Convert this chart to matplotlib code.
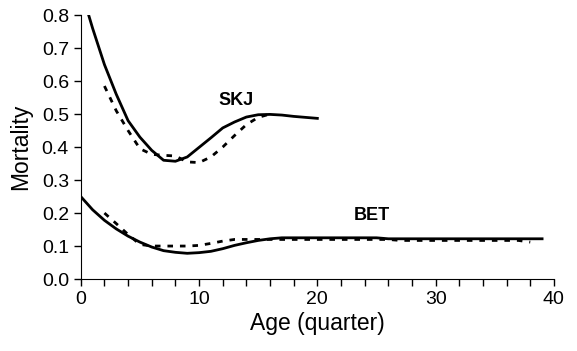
import matplotlib
matplotlib.use("Agg")
import matplotlib.pyplot as plt
from matplotlib.ticker import MultipleLocator, FormatStrFormatter

plt.rcParams['font.family'] = ['Liberation Sans', 'DejaVu Sans']

# skipjack (SKJ) mortality by age
skj_age = list(range(0, 21))
skj_solid = [0.88, 0.76, 0.65, 0.56, 0.48, 0.43, 0.39, 0.36, 0.357, 0.37,
             0.399, 0.428, 0.458, 0.476, 0.491, 0.498, 0.499, 0.497, 0.493,
             0.490, 0.487]
skj_dash_age = list(range(2, 17))
skj_dash = [0.585, 0.51, 0.45, 0.395, 0.378, 0.375, 0.373, 0.355, 0.353,
            0.37, 0.40, 0.435, 0.468, 0.49, 0.50]

# bigeye (BET) mortality by age
bet_age = list(range(0, 40))
bet_solid = [0.25, 0.21, 0.178, 0.152, 0.13, 0.112, 0.097, 0.086, 0.081,
             0.078, 0.08, 0.084, 0.092, 0.102, 0.11, 0.117, 0.122] + \
            [0.125] * 9 + [0.122] * 14
bet_dash_age = list(range(2, 39))
bet_dash = [0.20, 0.168, 0.135, 0.105, 0.1, 0.1, 0.1, 0.1, 0.102, 0.108,
            0.115, 0.12] + [0.12] * 13 + [0.117] * 11 + [0.112]

fig = plt.figure(figsize=(5.77, 3.51), dpi=100)
ax = fig.add_axes([0.14, 0.205, 0.82, 0.752])

ax.plot(skj_age, skj_solid, color='black', lw=2)
ax.plot(skj_dash_age, skj_dash, color='black', lw=2, ls=(0, (2, 2.5)))
ax.plot(bet_age, bet_solid, color='black', lw=2)
ax.plot(bet_dash_age, bet_dash, color='black', lw=2, ls=(0, (2, 2.5)))

ax.text(13.1, 0.541, 'SKJ', fontsize=13, fontweight='bold', ha='center', va='center')
ax.text(24.6, 0.194, 'BET', fontsize=13, fontweight='bold', ha='center', va='center')

ax.set_xlim(0, 40)
ax.set_ylim(0, 0.8)
ax.xaxis.set_major_locator(MultipleLocator(10))
ax.xaxis.set_minor_locator(MultipleLocator(2))
ax.yaxis.set_major_locator(MultipleLocator(0.1))
ax.yaxis.set_major_formatter(FormatStrFormatter('%.1f'))
ax.tick_params(which='major', direction='out', length=5, width=1, labelsize=14)
ax.tick_params(which='minor', direction='out', length=5, width=1)
for s in ['top', 'right']:
    ax.spines[s].set_visible(False)

ax.set_xlabel('Age (quarter)', fontsize=16.5, labelpad=3)
ax.set_ylabel('Mortality', fontsize=16.5, labelpad=7)

fig.savefig('out.png', dpi=100)
